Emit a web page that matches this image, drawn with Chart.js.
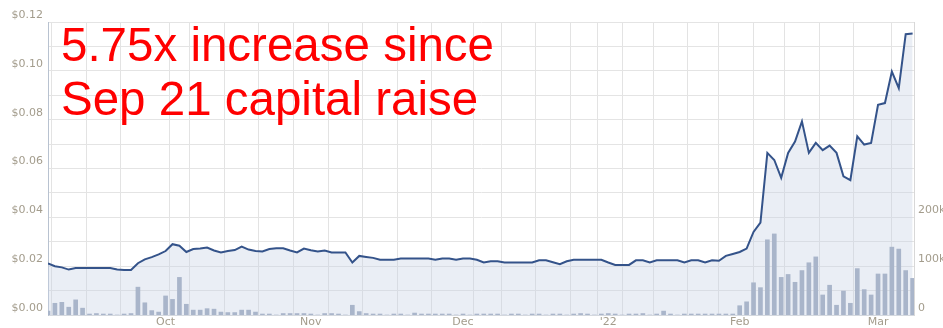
<!DOCTYPE html>
<html><head><meta charset="utf-8">
<script src="https://cdn.jsdelivr.net/npm/chart.js@4"></script>
<style>
html,body{margin:0;padding:0;background:#fff;overflow:hidden;}
#wrap{position:relative;width:943px;height:328px;}
#note{position:absolute;left:61px;top:18px;font-family:"Liberation Sans",Arial,sans-serif;font-size:47.5px;line-height:54px;color:#ff0000;white-space:nowrap;}
</style></head><body>
<div id="wrap"><canvas id="c" width="943" height="328"></canvas>
<div id="note">5.75x increase since<br>Sep 21 capital raise</div></div>
<script>
// ---- data ----
const startDate = '2021-09-08';
const endDate = '2022-03-08';
const holidays = ['2021-12-27', '2021-12-28', '2022-01-03', '2022-01-26'];
const monthLabels = {'2021-10': 'Oct', '2021-11': 'Nov', '2021-12': 'Dec', '2022-01': "'22", '2022-02': 'Feb', '2022-03': 'Mar'};
const price = [
  0.0211, 0.0200, 0.0195, 0.0186, 0.0192, 0.0192, 0.0192, 0.0192, 0.0192, 0.0192,
  0.0186, 0.0184, 0.0184, 0.0212, 0.0228, 0.0237, 0.0248, 0.0262, 0.0290, 0.0284,
  0.0258, 0.0270, 0.0272, 0.0276, 0.0264, 0.0256, 0.0262, 0.0266, 0.0280, 0.0268,
  0.0262, 0.0260, 0.0270, 0.0273, 0.0273, 0.0264, 0.0256, 0.0272, 0.0265, 0.0260,
  0.0264, 0.0256, 0.0256, 0.0256, 0.0215, 0.0242, 0.0238, 0.0234, 0.0226, 0.0226,
  0.0226, 0.0231, 0.0231, 0.0231, 0.0231, 0.0231, 0.0226, 0.0231, 0.0231, 0.0226,
  0.0231, 0.0231, 0.0226, 0.0215, 0.0220, 0.0220, 0.0215, 0.0215, 0.0215, 0.0215,
  0.0215, 0.0224, 0.0224, 0.0216, 0.0208, 0.0220, 0.0226, 0.0226, 0.0226, 0.0226,
  0.0226, 0.0215, 0.0205, 0.0205, 0.0205, 0.0224, 0.0224, 0.0215, 0.0224, 0.0224,
  0.0224, 0.0224, 0.0215, 0.0224, 0.0224, 0.0215, 0.0224, 0.0222, 0.0242, 0.0250,
  0.0258, 0.0272, 0.0340, 0.0378, 0.0664, 0.0635, 0.0562, 0.0664, 0.0710, 0.0793,
  0.0664, 0.0705, 0.0675, 0.0694, 0.0664, 0.0568, 0.0552, 0.0732, 0.0698, 0.0705,
  0.0861, 0.0868, 0.0997, 0.0929, 0.1150, 0.1153
];
const volume = [
  8000, 24000, 26000, 16000, 31000, 14000, 2000, 3000, 2000, 2000,
  0, 2000, 3000, 57000, 25000, 9000, 6000, 39000, 32000, 77000,
  22000, 10000, 10000, 13000, 12000, 6000, 5000, 5000, 10000, 10000,
  6000, 2000, 2000, 0, 3000, 3000, 3000, 3000, 2000, 0,
  3000, 3000, 2000, 0, 20000, 7000, 3000, 2000, 2000, 0,
  2000, 2000, 0, 4000, 2000, 2000, 2000, 2000, 2000, 0,
  2000, 0, 2000, 2000, 2000, 2000, 0, 2000, 2000, 0,
  2000, 2000, 0, 2000, 2000, 0, 2000, 3000, 2000, 0,
  2000, 3000, 2000, 0, 2000, 2000, 3000, 0, 2000, 8000,
  2000, 0, 2000, 2000, 2000, 2000, 2000, 2000, 2000, 2000,
  19000, 27000, 66000, 56000, 154000, 166000, 77000, 83000, 67000, 91000,
  107000, 119000, 41000, 61000, 20000, 49000, 24000, 95000, 52000, 41000,
  84000, 84000, 139000, 135000, 91000, 75000
];
const volumeTicks = [0, 100000, 200000];

// ---- trading-day calendar ----
const days = [];
for (let d = new Date(startDate + 'T00:00:00Z'); d <= new Date(endDate + 'T00:00:00Z'); d.setUTCDate(d.getUTCDate() + 1)) {
  const dow = d.getUTCDay();
  const iso = d.toISOString().slice(0, 10);
  if (dow === 0 || dow === 6 || holidays.includes(iso)) continue;
  days.push({iso, dow, month: iso.slice(0, 7)});
}
const weekStarts = new Set();
const monthStarts = new Map();
days.forEach((d, i) => {
  if (i > 0 && d.dow < days[i - 1].dow) weekStarts.add(i);
  if (i > 0 && d.month !== days[i - 1].month && monthLabels[d.month]) monthStarts.set(i, monthLabels[d.month]);
});
const xTicks = Array.from(new Set([...weekStarts, ...monthStarts.keys()])).sort((a, b) => a - b);

const lblFont = {family: 'DejaVu Sans', size: 11};
const lblColor = '#a39c8c';

new Chart(document.getElementById('c'), {
  type: 'bar',
  data: {
    datasets: [
      {
        type: 'line', label: 'Price', yAxisID: 'y', order: 1,
        data: price.map((v, i) => ({x: i, y: v})),
        borderColor: '#34538a', borderWidth: 2, pointRadius: 0, tension: 0,
        fill: 'origin', backgroundColor: 'rgba(200,211,230,0.38)'
      },
      {
        type: 'bar', label: 'Volume', yAxisID: 'y2', order: 2,
        data: volume.map((v, i) => ({x: i, y: v})),
        backgroundColor: '#a9b5ca', barThickness: 4
      }
    ]
  },
  options: {
    responsive: false, animation: false, devicePixelRatio: 1,
    layout: {padding: {top: 22, left: 0, right: 0, bottom: 0}},
    plugins: {legend: {display: false}, tooltip: {enabled: false}, filler: {drawTime: 'beforeDatasetsDraw'}},
    scales: {
      x: {
        type: 'linear', min: 0, max: 125.2, offset: false,
        afterBuildTicks: s => { s.ticks = xTicks.map(v => ({value: v})); },
        afterFit: s => { s.height = 13; },
        ticks: {
          autoSkip: false, maxRotation: 0, padding: 1, font: lblFont, color: lblColor,
          callback: v => monthStarts.get(v) || ''
        },
        grid: {drawTicks: false, color: c => (c.tick && weekStarts.has(c.tick.value)) ? '#e3e3e3' : 'rgba(0,0,0,0)'},
        border: {display: true, color: '#d4d8de'}
      },
      y: {
        position: 'left', min: 0, max: 0.12,
        afterFit: s => { s.width = 48; },
        ticks: {
          stepSize: 0.01, padding: 5, labelOffset: -7, font: lblFont, color: lblColor,
          callback: v => (Math.round(v * 100) % 2 === 0) ? '$' + v.toFixed(2) : ''
        },
        grid: {drawTicks: false, color: '#e4e4e4'},
        border: {display: true, color: '#b8c2d0'}
      },
      y2: {
        position: 'right', min: 0, max: 600000,
        afterBuildTicks: s => { s.ticks = volumeTicks.map(v => ({value: v})); },
        afterFit: s => { s.width = 29; },
        ticks: {
          padding: 4, labelOffset: -7, font: lblFont, color: lblColor,
          callback: v => v === 0 ? '0' : (v / 1000) + 'k'
        },
        grid: {display: false, drawTicks: false},
        border: {display: true, color: '#d8d8d8'}
      }
    }
  }
});
</script>
</body></html>
